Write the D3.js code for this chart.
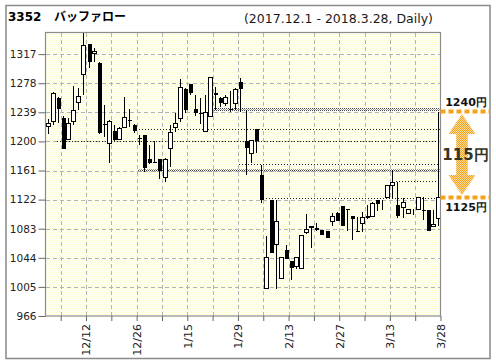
<!DOCTYPE html>
<html>
<head>
<meta charset="utf-8">
<script src="https://cdn.jsdelivr.net/npm/d3@7"></script>
<style>
  body { margin: 0; background: #fff; }
  svg { display: block; }
</style>
</head>
<body>
<svg id="chart" width="496" height="364"></svg>
<script>
// trading days, 2017.12.1 - 2018.3.28
const dates = [
  '12/1', '12/4', '12/5', '12/6', '12/7', '12/8', '12/11', '12/12', '12/13', '12/14', '12/15',
  '12/18', '12/19', '12/20', '12/21', '12/22', '12/25', '12/26', '12/27', '12/28', '12/29',
  '1/4', '1/5', '1/9', '1/10', '1/11', '1/12', '1/15', '1/16', '1/17', '1/18', '1/19',
  '1/22', '1/23', '1/24', '1/25', '1/26', '1/29', '1/30', '1/31',
  '2/1', '2/2', '2/5', '2/6', '2/7', '2/8', '2/9', '2/13', '2/14', '2/15', '2/16',
  '2/19', '2/20', '2/21', '2/22', '2/23', '2/26', '2/27', '2/28',
  '3/1', '3/2', '3/5', '3/6', '3/7', '3/8', '3/9', '3/12', '3/13', '3/14', '3/15', '3/16',
  '3/19', '3/20', '3/22', '3/23', '3/26', '3/27', '3/28'
];
const open = [
  1221, 1227, 1258, 1232, 1203, 1227, 1253, 1291, 1330, 1318, 1305,
  1224, 1198, 1214, 1203, 1220, 1229, 1222, 1204, 1209, 1176,
  1172, 1176, 1152, 1191, 1220, 1232, 1270, 1277, 1243, 1238, 1214,
  1234, 1265, 1258, 1251, 1244, 1251, 1280, 1200,
  1184, 1217, 1155, 1003, 1121, 1063, 1017, 1055, 1040, 1033, 1031,
  1078, 1085, 1084, 1081, 1080, 1094, 1104, 1113,
  1109, 1100, 1080.5, 1091, 1100, 1100, 1122, 1121, 1126, 1141, 1115, 1112,
  1104, 1110, 1110, 1108, 1108, 1086, 1098
];
const high = [
  1230, 1266, 1260, 1234, 1231, 1274, 1271, 1345, 1331, 1325, 1306,
  1249, 1229, 1222, 1220, 1260, 1244, 1223, 1208, 1209, 1195,
  1200, 1176, 1178, 1222, 1238, 1284, 1271, 1277, 1262, 1258, 1262,
  1287, 1273, 1260, 1262, 1267, 1272, 1285, 1242,
  1202, 1217, 1168, 1073, 1121, 1121, 1045, 1061, 1040, 1045, 1074,
  1103, 1086, 1091, 1081, 1080, 1104, 1106, 1113,
  1110, 1100, 1099, 1106, 1115, 1119, 1122, 1121, 1141, 1162, 1146, 1124,
  1110, 1110, 1125, 1125, 1108, 1108, 1240
];
const low = [
  1210, 1222, 1225, 1190, 1203, 1222, 1242, 1262, 1298, 1307, 1210,
  1206, 1171, 1201, 1203, 1219, 1220, 1211, 1195, 1159, 1170,
  1171, 1150, 1146, 1166, 1213, 1226, 1238, 1262, 1234, 1223, 1214,
  1233, 1242, 1246, 1247, 1240, 1242, 1240, 1155,
  1171, 1184, 1117, 1003, 1051, 1002, 1015, 1042, 1014, 1029, 1031,
  1076, 1057, 1080, 1074, 1071, 1086, 1094, 1087,
  1080, 1068, 1079, 1079, 1096, 1099, 1107, 1108, 1126, 1124, 1097, 1097,
  1103, 1101, 1110, 1095, 1080, 1085, 1086
];
const close = [
  1225, 1265, 1243, 1190, 1225, 1242, 1261, 1329, 1307, 1321, 1211,
  1223, 1227, 1202, 1218, 1233, 1228, 1214, 1203, 1164, 1171,
  1171, 1160, 1177, 1213, 1225, 1273, 1242, 1265, 1238, 1237, 1239,
  1286, 1262, 1251, 1259, 1243, 1270, 1270, 1191,
  1202, 1200, 1121, 1045, 1051, 1093, 1045, 1042, 1031, 1045, 1074,
  1083, 1086, 1081, 1075, 1071, 1100, 1094, 1087,
  1108, 1096, 1080, 1099, 1098, 1118, 1116, 1121, 1141, 1145, 1100, 1119,
  1110, 1110, 1125, 1107, 1080, 1089, 1125
];

const yTicks = [966, 1005, 1044, 1083, 1122, 1161, 1200, 1239, 1278, 1317];
const gridDates = ['12/5', '12/12', '12/19', '12/26', '1/5', '1/15', '1/22', '1/29',
  '2/5', '2/13', '2/20', '2/27', '3/6', '3/13', '3/20', '3/28'];
const xLabels = ['12/12', '12/26', '1/15', '1/29', '2/13', '2/27', '3/13', '3/28'];

// price levels drawn across to the right edge
const levelPrice = [1242, 1216, 1200, 1170, 1160, 1147, 1124];
const levelFrom = ['1/23', '12/26', '12/5', '1/30', '12/27', '3/15', '2/5'];
const levelKind = ['band', 'dot', 'dot', 'dot', 'band', 'dot', 'dot'];

const rangeHigh = 1240;
const rangeLow = 1125;

const svg = d3.select('#chart');
const pL = 45.5, pR = 440.5, pT = 32.5, pB = 316;
const orange = '#f5a21b';
const font = '"DejaVu Sans", Verdana, sans-serif';

const x = d3.scaleLinear().domain([-0.5, dates.length - 0.5]).range([pL, pR]);
const y = d3.scaleLinear().domain([966, 1346]).range([pB, pT]);
const xi = d => dates.indexOf(d);

const defs = svg.append('defs');
const bg = defs.append('pattern').attr('id', 'bg').attr('width', 2).attr('height', 2)
  .attr('patternUnits', 'userSpaceOnUse');
bg.append('rect').attr('width', 2).attr('height', 2).attr('fill', '#ffffff');
bg.append('rect').attr('width', 1).attr('height', 1).attr('fill', '#fdfdd2');
bg.append('rect').attr('x', 1).attr('y', 1).attr('width', 1).attr('height', 1).attr('fill', '#fdfdd2');

const hatch = defs.append('pattern').attr('id', 'hatch').attr('width', 2).attr('height', 2)
  .attr('patternUnits', 'userSpaceOnUse');
hatch.append('rect').attr('width', 1).attr('height', 1).attr('fill', '#444');
hatch.append('rect').attr('x', 1).attr('y', 1).attr('width', 1).attr('height', 1).attr('fill', '#999');

const dither = defs.append('pattern').attr('id', 'dither').attr('width', 2).attr('height', 2)
  .attr('patternUnits', 'userSpaceOnUse');
dither.append('rect').attr('width', 2).attr('height', 2).attr('fill', '#fcdca0');
dither.append('rect').attr('width', 1).attr('height', 1).attr('fill', orange);
dither.append('rect').attr('x', 1).attr('y', 1).attr('width', 1).attr('height', 1).attr('fill', orange);

// outer frame
svg.append('rect').attr('x', 6).attr('y', 5.5).attr('width', 484).attr('height', 353)
  .attr('fill', '#fff').attr('stroke', '#8a8a8a').attr('stroke-width', 1.5);

// titles
svg.append('text').attr('x', 8).attr('y', 21).attr('font-family', font)
  .attr('font-weight', 'bold').attr('font-size', 12).attr('fill', '#000').text('3352');
svg.append('text').attr('x', 54).attr('y', 21).attr('font-family', '"Noto Sans CJK JP", sans-serif')
  .attr('font-weight', 'bold').attr('font-size', 12).attr('fill', '#000').text('バッファロー');
svg.append('text').attr('x', 433).attr('y', 23).attr('text-anchor', 'end').attr('font-family', font)
  .attr('font-size', 12.5).attr('fill', '#1a1a1a').text('(2017.12.1 - 2018.3.28, Daily)');

// plot background
svg.append('rect').attr('x', pL).attr('y', pT).attr('width', pR - pL).attr('height', pB - pT)
  .attr('fill', 'url(#bg)');

// grid
const grid = svg.append('g').attr('stroke', '#b4b4b4').attr('stroke-dasharray', '4,3')
  .attr('shape-rendering', 'crispEdges');
grid.selectAll('line.h').data(yTicks.slice(1)).join('line').attr('class', 'h')
  .attr('x1', pL).attr('x2', pR).attr('y1', d => Math.round(y(d)) + 0.5).attr('y2', d => Math.round(y(d)) + 0.5);
grid.selectAll('line.v').data(gridDates.slice(0, -1)).join('line').attr('class', 'v')
  .attr('y1', pT).attr('y2', pB).attr('x1', d => Math.round(x(xi(d) + 0.5)) + 0.5)
  .attr('x2', d => Math.round(x(xi(d) + 0.5)) + 0.5);

// price levels
const levels = svg.append('g').attr('shape-rendering', 'crispEdges');
levelPrice.forEach((p, i) => {
  const x0 = Math.round(x(xi(levelFrom[i]))) - 1;
  if (levelKind[i] === 'band') {
    levels.append('rect').attr('x', x0).attr('width', pR - x0)
      .attr('y', Math.round(y(p)) - 2).attr('height', 3).attr('fill', 'url(#hatch)');
  } else {
    levels.append('line').attr('x1', x0).attr('x2', pR)
      .attr('y1', Math.round(y(p)) + 0.5).attr('y2', Math.round(y(p)) + 0.5)
      .attr('stroke', '#222').attr('stroke-dasharray', '1,2');
  }
});

// candles
const candles = svg.append('g').attr('shape-rendering', 'crispEdges')
  .selectAll('g').data(dates.map((d, i) => ({ d, i, o: open[i], h: high[i], l: low[i], c: close[i] })))
  .join('g');
const cx = k => Math.round(x(k.i)) + 0.5;
candles.append('line')
  .attr('x1', cx).attr('x2', cx)
  .attr('y1', k => Math.round(y(k.h))).attr('y2', k => Math.round(y(k.l)))
  .attr('stroke', '#000');
candles.append('rect')
  .attr('x', k => cx(k) - 2)
  .attr('width', 4)
  .attr('y', k => Math.round(y(Math.max(k.o, k.c))) + (k.c >= k.o ? 0.5 : 0))
  .attr('height', k => Math.max(Math.round(y(Math.min(k.o, k.c))) - Math.round(y(Math.max(k.o, k.c))), k.c >= k.o ? 0 : 1))
  .attr('fill', k => k.c >= k.o ? '#fff' : '#000')
  .attr('stroke', k => k.c >= k.o ? '#000' : 'none');

// plot border
svg.append('rect').attr('x', pL).attr('y', pT).attr('width', pR - pL).attr('height', pB - pT)
  .attr('fill', 'none').attr('stroke', '#8c8c8c').attr('stroke-width', 1.2);

// axes
const yAxis = svg.append('g').attr('transform', `translate(${pL},0)`)
  .call(d3.axisLeft(y).tickValues(yTicks).tickSize(7).tickPadding(2).tickFormat(d3.format('d')));
yAxis.select('.domain').remove();
yAxis.selectAll('line').attr('stroke', '#666');
yAxis.selectAll('text').attr('font-family', font).attr('font-size', 10.5).attr('fill', '#222');

const xAxis = svg.append('g').attr('transform', `translate(0,${pB})`)
  .call(d3.axisBottom(x).tickValues(gridDates.map(d => xi(d) + 0.5)).tickSize(5)
    .tickFormat(v => { const d = dates[Math.round(v - 0.5)]; return xLabels.includes(d) ? d : ''; }));
xAxis.select('.domain').remove();
xAxis.selectAll('line').attr('stroke', '#666');
xAxis.selectAll('text')
  .attr('font-family', font).attr('font-size', 11).attr('fill', '#222')
  .attr('transform', 'rotate(-90)').attr('text-anchor', 'end')
  .attr('x', -8).attr('y', 0).attr('dy', '0.35em');

// range annotation on the right
const ax0 = pR, ax1 = 490;
[rangeHigh, rangeLow].forEach(p => {
  svg.append('line').attr('x1', ax0).attr('x2', ax1).attr('y1', y(p)).attr('y2', y(p))
    .attr('stroke', orange).attr('stroke-width', 4).attr('stroke-dasharray', '5,3');
});
const acx = 462, yt = y(rangeHigh) + 2.5, yb = y(rangeLow) - 2.5, hw = 13.5, sw = 5.8, hl = 20;
svg.append('path')
  .attr('d', `M${acx},${yt} L${acx + hw},${yt + hl} L${acx + sw},${yt + hl} L${acx + sw},${yb - hl}
    L${acx + hw},${yb - hl} L${acx},${yb} L${acx - hw},${yb - hl} L${acx - sw},${yb - hl}
    L${acx - sw},${yt + hl} L${acx - hw},${yt + hl} Z`)
  .attr('fill', 'url(#dither)');
svg.append('text').attr('x', 466).attr('y', y(rangeHigh) - 5.5).attr('text-anchor', 'middle')
  .attr('font-family', font).attr('font-weight', 'bold').attr('font-size', 11).attr('fill', '#111')
  .text(rangeHigh + '円');
svg.append('text').attr('x', 466).attr('y', y(rangeLow) + 14).attr('text-anchor', 'middle')
  .attr('font-family', font).attr('font-weight', 'bold').attr('font-size', 11).attr('fill', '#111')
  .text(rangeLow + '円');
svg.append('text').attr('x', 465.5).attr('y', (y(rangeHigh) + y(rangeLow)) / 2 + 5.5).attr('text-anchor', 'middle')
  .attr('font-family', font).attr('font-weight', 'bold').attr('font-size', 15).attr('fill', '#333322')
  .text((rangeHigh - rangeLow) + '円');
</script>
</body>
</html>
